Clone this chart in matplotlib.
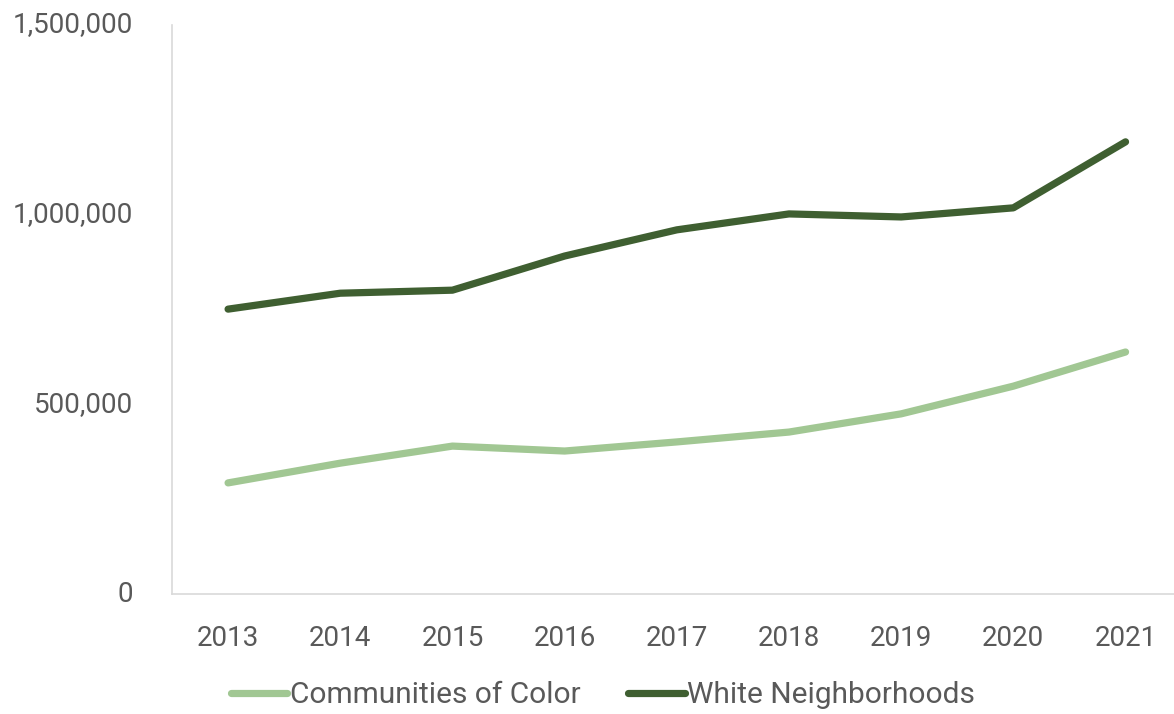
import matplotlib.pyplot as plt
from matplotlib.ticker import FuncFormatter

years = ['2013', '2014', '2015', '2016', '2017', '2018', '2019', '2020', '2021']
communities_of_color = [293000, 345000, 390000, 377000, 401000, 427000, 475000, 548000, 638000]
white_neighborhoods = [751000, 793000, 801000, 891000, 960000, 1002000, 994000, 1018000, 1192000]

plt.rcParams['font.family'] = ['Roboto', 'DejaVu Sans']
text_gray = '#595959'

fig = plt.figure(figsize=(11.74, 7.14), dpi=100)
# plot area runs a little past the right edge, like the original
ax = fig.add_axes([0.1465, 0.168, 0.860, 0.797])

x = range(len(years))
ax.plot(x, communities_of_color, color='#a1c793', lw=5.2, solid_capstyle='round',
        solid_joinstyle='round', label='Communities of Color')
ax.plot(x, white_neighborhoods, color='#3f5f31', lw=5.2, solid_capstyle='round',
        solid_joinstyle='round', label='White Neighborhoods')

ax.set_xlim(-0.5, len(years) - 0.5)
ax.set_ylim(0, 1500000)
ax.set_yticks([0, 500000, 1000000, 1500000])
ax.yaxis.set_major_formatter(FuncFormatter(lambda v, p: f'{int(v):,}'))
ax.set_xticks(list(x))
ax.set_xticklabels(years)

for s in ['top', 'right']:
    ax.spines[s].set_visible(False)
for s in ['left', 'bottom']:
    ax.spines[s].set_color('#d9d9d9')
    ax.spines[s].set_linewidth(1.2)
ax.tick_params(axis='both', length=0, labelsize=20, colors=text_gray)
ax.tick_params(axis='x', pad=22)
ax.tick_params(axis='y', pad=28)
for lbl in ax.get_yticklabels():
    lbl.set_verticalalignment('center')

leg = fig.legend(loc='center', bbox_to_anchor=(603 / 1174, 1 - 695 / 714), ncol=2,
                 frameon=False, fontsize=21.5, handlelength=1.9, handletextpad=0.08,
                 columnspacing=1.6)
for t in leg.get_texts():
    t.set_color(text_gray)

fig.savefig('out.png', dpi=100)
